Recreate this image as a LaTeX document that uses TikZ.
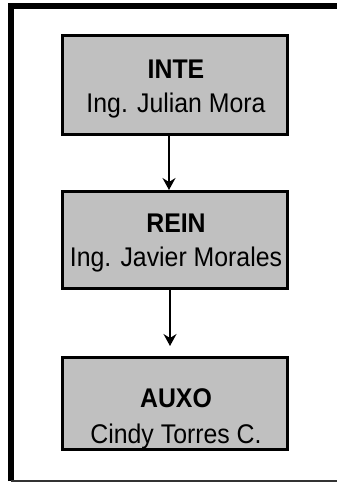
\documentclass[tikz,border=0pt]{standalone}
\usepackage{fontspec}
\setmainfont[FakeStretch=0.92]{Liberation Sans}
\usetikzlibrary{arrows.meta}
\definecolor{boxgray}{HTML}{C0C0C0}
\begin{document}
\begin{tikzpicture}[x=1pt,y=-1pt,
  box/.style={draw=black, fill=boxgray, line width=3pt, minimum width=225pt, inner sep=0pt},
  ttl/.style={anchor=base, font=\fontsize{27}{31}\selectfont\bfseries, inner sep=0pt},
  nm/.style={anchor=base, font=\fontsize{27}{31}\selectfont, inner sep=0pt},
  arr/.style={draw=black, line width=1.5pt, -{Stealth[length=12pt,width=13pt,inset=4pt]}}]
\useasboundingbox (0,0) rectangle (337,482);
% outer frame
\draw[line width=6pt] (11,481) -- (11,6) -- (337,6);
\draw[line width=1.2pt, black!80] (11,481) -- (337,481);
% boxes
\node[box, minimum height=99pt] (b1) at (175,85) {};
\node[box, minimum height=97pt] (b2) at (175,240) {};
\node[box, minimum height=92pt] (b3) at (175,403.5) {};
% texts
\node[ttl] (t1) at (176,78) {INTE};
\node[nm]  (n1) at (176,112) {Ing. Julian Mora};
\node[ttl] (t2) at (176,232) {REIN};
\node[nm]  (n2) at (176,266) {Ing. Javier Morales};
\node[ttl] (t3) at (176,407) {AUXO};
\node[nm]  (n3) at (176,443) {Cindy Torres C.};
% connectors
\draw[arr] ([xshift=-6pt]b1.south) -- ([xshift=-6pt]b2.north);
\draw[arr, shorten >=10pt] ([xshift=-5pt]b2.south) -- ([xshift=-5pt]b3.north);
\end{tikzpicture}
\end{document}
